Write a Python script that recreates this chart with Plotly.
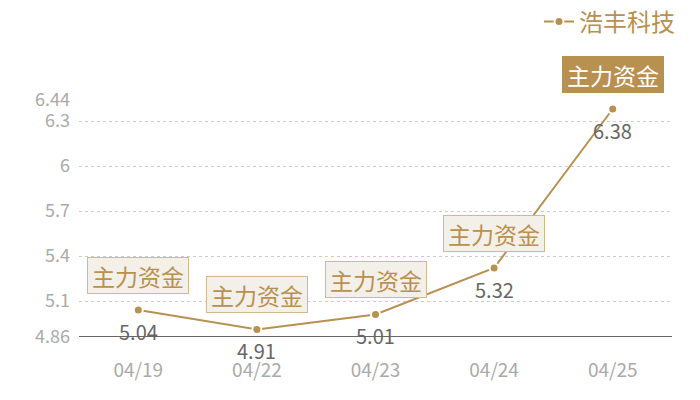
import plotly.graph_objects as go

dates = ['04/19', '04/22', '04/23', '04/24', '04/25']
prices = [5.04, 4.91, 5.01, 5.32, 6.38]
tag_text = '主力资金'
highlight = [False, False, False, False, True]
y_ticks = [4.86, 5.1, 5.4, 5.7, 6, 6.3, 6.44]
series_name = '浩丰科技'

tan = '#b8904f'
font = 'Noto Sans CJK SC'

fig = go.Figure()
fig.add_trace(go.Scatter(x=dates, y=prices, mode='lines+markers', name=series_name,
                         line=dict(color=tan, width=2),
                         marker=dict(size=9, color=tan, line=dict(color='white', width=2)),
                         hoverinfo='x+y'))

# value labels under the points
for d, p in zip(dates, prices):
    fig.add_annotation(x=d, y=p, text=f'{p:.2f}', showarrow=False, yshift=-21,
                       font=dict(family=font, size=20, color='#666666'))

# the "主力资金" tags above the points
for d, p, h in zip(dates, prices, highlight):
    fig.add_annotation(x=d, y=p, text=tag_text, showarrow=False, yshift=35,
                       width=96, height=31,
                       font=dict(family=font, size=23, color='white' if h else tan),
                       bgcolor=tan if h else '#f3efe9',
                       bordercolor=tan if h else '#d2b88f', borderwidth=1, borderpad=2)

# page has an 8px body margin, so the figure is 8px smaller on each side
fig.update_layout(
    width=692, height=392,
    margin=dict(l=71, r=28, t=92, b=63, autoexpand=False),
    plot_bgcolor='white', paper_bgcolor='white',
    font=dict(family=font),
    showlegend=True,
    legend=dict(x=1.0135, y=1.425, xref='paper', yref='paper', xanchor='right', yanchor='top',
                orientation='h', font=dict(size=24, color=tan, family=font),
                itemwidth=30, bgcolor='rgba(0,0,0,0)'),
)
fig.update_xaxes(type='category', range=[-0.5, 4.5], showgrid=False, zeroline=False,
                 showline=False, ticks='',
                 tickfont=dict(size=19, color='#aaaaaa'), ticklabelstandoff=20)
fig.update_yaxes(range=[4.86, 6.44], tickvals=y_ticks, ticktext=[str(v) for v in y_ticks],
                 showgrid=True, gridcolor='#cccccc', griddash='dot', gridwidth=1,
                 zeroline=False, showline=False, ticks='',
                 tickfont=dict(size=18, color='#aaaaaa'), ticklabelstandoff=8)
# dark baseline at the bottom
fig.add_shape(type='line', xref='paper', yref='y', x0=0, x1=1, y0=4.86, y1=4.86,
              line=dict(color='#333333', width=1.5))

fig.write_html('out.html')
